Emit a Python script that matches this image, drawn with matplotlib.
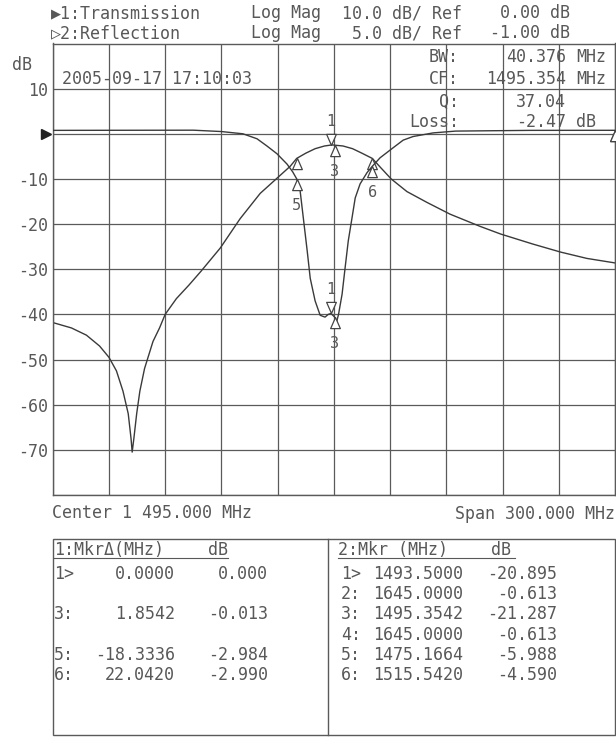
import numpy as np
import matplotlib.pyplot as plt
from matplotlib.path import Path

plt.rcParams['font.family'] = ['DejaVu Sans Mono', 'DejaVu Sans']

W, H = 616, 737
TXT = '#585858'
GRID = '#5a5a5a'
TRACE = '#3a3a3a'

# trace 1: transmission, 10 dB/div, ref 0 dB
t_freq = [1345, 1355, 1363, 1370, 1375, 1379, 1382.5, 1385.3, 1386.8, 1387.4,
          1388.3, 1389.8, 1391.5, 1394, 1398.5, 1402, 1405, 1411, 1417.7, 1424,
          1434.4, 1445, 1455.7, 1465.3, 1471.7, 1475.2, 1480, 1485, 1490, 1494,
          1499.9, 1505, 1510, 1515.5, 1520, 1525.6, 1534, 1544.7, 1557, 1573,
          1584, 1601, 1616, 1630, 1645]
t_db = [-41.8, -43.0, -44.6, -47.0, -49.5, -52.5, -57, -62, -67.5, -70.5,
        -67.5, -62, -57, -52, -46, -43, -40, -36.5, -33.5, -30.5,
        -25.3, -18.8, -13.2, -9.6, -7.2, -5.44, -4.3, -3.3, -2.7, -2.46,
        -2.7, -3.3, -4.3, -5.45, -7.5, -10, -12.8, -15.2, -17.8, -20.5,
        -22.2, -24.4, -26.2, -27.6, -28.6]

# trace 2: reflection, 5 dB/div, ref -1 dB
r_freq = [1345, 1380, 1420, 1435, 1446.5, 1454, 1459.3, 1464.6, 1470, 1473,
          1475.17, 1477, 1478.7, 1480.8, 1482.4, 1485, 1487.7, 1490.3, 1492, 1493.5,
          1495.35, 1496.5, 1497.5, 1499.4, 1501, 1502.7, 1504.7, 1506.4, 1509, 1512.7,
          1515.54, 1519.7, 1526.6, 1532, 1537.3, 1548, 1560, 1600, 1645]
r_db = [-0.62, -0.61, -0.6, -0.75, -1.0, -1.55, -2.35, -3.2, -4.35, -5.2,
        -5.988, -7.3, -10.3, -14.0, -17.0, -19.5, -21.1, -21.3, -21.0, -20.895,
        -21.287, -21.8, -21.0, -18.75, -15.85, -12.85, -10.3, -8.1, -6.55, -5.3,
        -4.59, -3.65, -2.55, -1.7, -1.3, -0.9, -0.7, -0.62, -0.613]

# markers
t_mk_freq = [1493.5, 1495.3542, 1475.1664, 1515.542]
t_mk_db = [-2.457, -2.47, -5.441, -5.447]
t_mk_lbl = ['1', '3', '', '']
r_mk_freq = [1493.5, 1645.0, 1495.3542, 1645.0, 1475.1664, 1515.542]
r_mk_db = [-20.895, -0.613, -21.287, -0.613, -5.988, -4.590]
r_mk_lbl = ['1', '', '3', '', '5', '6']

# marker tables
tab1_lbl = ['1>', '3:', '5:', '6:']
tab1_row = [0, 2, 4, 5]
tab1_mhz = ['0.0000', '1.8542', '-18.3336', '22.0420']
tab1_db = ['0.000', '-0.013', '-2.984', '-2.990']
tab2_lbl = ['1>', '2:', '3:', '4:', '5:', '6:']
tab2_mhz = ['1493.5000', '1645.0000', '1495.3542', '1645.0000', '1475.1664', '1515.5420']
tab2_db = ['-20.895', '-0.613', '-21.287', '-0.613', '-5.988', '-4.590']

ylabels = ['', '10', '', '-10', '-20', '-30', '-40', '-50', '-60', '-70', '']


def fx(x):
    return x / W


def fy(y):
    return 1 - y / H


def ftext(x, y, s, ha='left', size=12):
    fig.text(fx(x), fy(y), s, ha=ha, va='center', fontsize=size, color=TXT)


fig = plt.figure(figsize=(W / 100, H / 100), dpi=100)
ax = fig.add_axes([fx(52.7), fy(495), (615 - 52.7) / W, (495 - 43.5) / H])
ax.set_xlim(1345, 1645)
ax.set_ylim(-80, 20)
ax.set_xticks(np.linspace(1345, 1645, 11))
ax.set_xticklabels([])
ax.set_yticks(np.arange(20, -81, -10))
ax.set_yticklabels(ylabels)
ax.tick_params(length=0, pad=3, labelsize=12, labelcolor=TXT)
ax.grid(True, color=GRID, lw=0.9)
for sp in ax.spines.values():
    sp.set_color(GRID)
    sp.set_linewidth(1.0)

ax2 = ax.twinx()
ax2.set_ylim(-41, 9)
ax2.set_yticks([])
for sp in ax2.spines.values():
    sp.set_visible(False)

ax.plot(t_freq, t_db, color=TRACE, lw=1.0)
ax2.plot(r_freq, r_db, color=TRACE, lw=1.0)

tri_up = Path([(0, 0), (-0.7, -1.6), (0.7, -1.6), (0, 0)])
tri_dn = Path([(0, 0), (-0.7, 1.6), (0.7, 1.6), (0, 0)])


def draw_markers(a, fr, db, lbl):
    for i, (f, d, l) in enumerate(zip(fr, db, lbl)):
        active = i == 0
        a.plot([f], [d], marker=tri_dn if active else tri_up, ms=16,
               mfc='white', mec='#444', mew=0.9, clip_on=False, zorder=5)
        if l:
            off = 17 if active else -19
            a.annotate(l, (f, d), xytext=(0, off), textcoords='offset points',
                       ha='center', va='center', fontsize=11, color=TXT)


draw_markers(ax, t_mk_freq, t_mk_db, t_mk_lbl)
draw_markers(ax2, r_mk_freq, r_mk_db, r_mk_lbl)

# reference position arrow
ax.plot([-0.012], [0], marker='>', ms=7, color='#222',
        transform=ax.get_yaxis_transform(), clip_on=False)

# header
ftext(51, 13, '▶1:Transmission')
ftext(251, 13, 'Log Mag')
ftext(462, 13, '10.0 dB/ Ref', ha='right')
ftext(570, 13, '0.00 dB', ha='right')
ftext(51, 33, '▷2:Reflection')
ftext(251, 33, 'Log Mag')
ftext(462, 33, '5.0 dB/ Ref', ha='right')
ftext(570, 33, '-1.00 dB', ha='right')

ftext(12, 65, 'dB')
ftext(62, 79, '2005-09-17 17:10:03')

# marker statistics
stats = [('BW:', '40.376', 'MHz', 57), ('CF:', '1495.354', 'MHz', 79),
         ('Q:', '37.04', '', 102), ('Loss:', '-2.47', 'dB', 122)]
for name, val, unit, y in stats:
    ftext(459, y, name, ha='right')
    ftext(566, y, val, ha='right')
    if unit:
        ftext(576, y, unit)

ftext(52, 513, 'Center 1 495.000 MHz')
ftext(615, 514, 'Span 300.000 MHz', ha='right')

# marker tables
box = plt.Rectangle((fx(53), fy(735)), (615 - 53) / W, (735 - 539) / H,
                    transform=fig.transFigure, fill=False, ec=GRID, lw=1.0)
fig.add_artist(box)
fig.add_artist(plt.Line2D([fx(328), fx(328)], [fy(539), fy(735)],
                          transform=fig.transFigure, color=GRID, lw=1.0))
fig.add_artist(plt.Line2D([fx(54), fx(228)], [fy(558), fy(558)],
                          transform=fig.transFigure, color=TXT, lw=0.8))
fig.add_artist(plt.Line2D([fx(338), fx(515)], [fy(558), fy(558)],
                          transform=fig.transFigure, color=TXT, lw=0.8))
ftext(54, 550, '1:MkrΔ(MHz)')
ftext(208, 550, 'dB')
ftext(338, 550, '2:Mkr (MHz)')
ftext(491, 550, 'dB')

row_y = [574 + 20.2 * k for k in range(6)]
for l, r, m, d in zip(tab1_lbl, tab1_row, tab1_mhz, tab1_db):
    ftext(54, row_y[r], l)
    ftext(175, row_y[r], m, ha='right')
    ftext(268, row_y[r], d, ha='right')
for k, (l, m, d) in enumerate(zip(tab2_lbl, tab2_mhz, tab2_db)):
    ftext(341, row_y[k], l)
    ftext(463, row_y[k], m, ha='right')
    ftext(557, row_y[k], d, ha='right')

fig.savefig('out.png', dpi=100)
